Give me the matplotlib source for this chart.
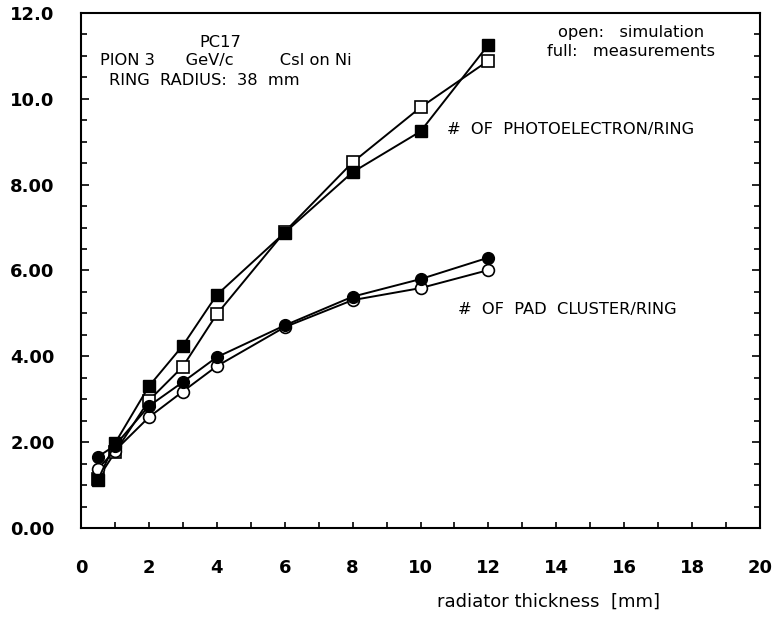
import matplotlib
matplotlib.use("Agg")
import matplotlib.pyplot as plt
from matplotlib.ticker import MultipleLocator, FixedLocator

# radiator thickness [mm]
thick = [0.5, 1, 2, 3, 4, 6, 8, 10, 12]

# photoelectrons / ring
pe_meas = [1.12, 1.97, 3.30, 4.25, 5.43, 6.88, 8.29, 9.24, 11.26]
pe_sim = [1.15, 1.76, 2.97, 3.76, 4.98, 6.90, 8.52, 9.80, 10.89]

# pad clusters / ring
pad_meas = [1.66, 1.92, 2.84, 3.40, 3.98, 4.72, 5.39, 5.80, 6.30]
pad_sim = [1.38, 1.80, 2.58, 3.18, 3.77, 4.68, 5.31, 5.59, 6.01]

ytick_vals = [0, 2, 4, 6, 8, 10, 12]
ytick_text = ["0.00", "2.00", "4.00", "6.00", "8.00", "10.0", "12.0"]

plt.rcParams['font.family'] = ['DejaVu Sans']

fig = plt.figure(figsize=(7.78, 6.18), dpi=100)
ax = fig.add_axes([0.104, 0.1456, 0.873, 0.8334])

lw = 1.4
ax.plot(thick, pe_sim, color='black', lw=lw, marker='s', ms=8,
        mfc='white', mec='black', mew=1.2, zorder=3)
ax.plot(thick, pe_meas, color='black', lw=lw, marker='s', ms=8,
        mfc='black', mec='black', zorder=4)
ax.plot(thick, pad_sim, color='black', lw=lw, marker='o', ms=8.5,
        mfc='white', mec='black', mew=1.2, zorder=3)
ax.plot(thick, pad_meas, color='black', lw=lw, marker='o', ms=8.5,
        mfc='black', mec='black', zorder=4)

ax.set_xlim(0, 20)
ax.set_ylim(0, 12)

ax.xaxis.set_major_locator(MultipleLocator(2))
ax.xaxis.set_minor_locator(MultipleLocator(1))
ax.yaxis.set_major_locator(FixedLocator(ytick_vals))
ax.set_yticklabels(ytick_text)
ax.yaxis.set_minor_locator(MultipleLocator(0.5))

ax.tick_params(axis='both', which='both', direction='in', top=False,
               right=True, labelsize=13, width=1.2)
ax.tick_params(axis='both', which='major', length=6)
ax.tick_params(axis='both', which='minor', length=4)
ax.tick_params(axis='x', which='major', length=4, pad=22)
ax.tick_params(axis='y', which='major', pad=19)
for lab in ax.get_xticklabels() + ax.get_yticklabels():
    lab.set_fontweight('bold')

for s in ax.spines.values():
    s.set_linewidth(1.5)

ax.set_xlabel("radiator thickness  [mm]", fontsize=13)
ax.xaxis.set_label_coords(0.688, -0.125)

fs = 11.7
ax.text(4.1, 11.32, "PC17", ha='center', va='center', fontsize=fs)
ax.text(0.56, 10.9, "PION 3      GeV/c         CsI on Ni", ha='left', va='center', fontsize=fs)
ax.text(0.82, 10.42, "RING  RADIUS:  38  mm", ha='left', va='center', fontsize=fs)
ax.text(16.2, 11.55, "open:   simulation", ha='center', va='center', fontsize=fs)
ax.text(16.2, 11.1, "full:   measurements", ha='center', va='center', fontsize=fs)
ax.text(10.78, 9.28, "#  OF  PHOTOELECTRON/RING", ha='left', va='center', fontsize=fs)
ax.text(11.1, 5.1, "#  OF  PAD  CLUSTER/RING", ha='left', va='center', fontsize=fs)

fig.savefig("out.png", dpi=100)
